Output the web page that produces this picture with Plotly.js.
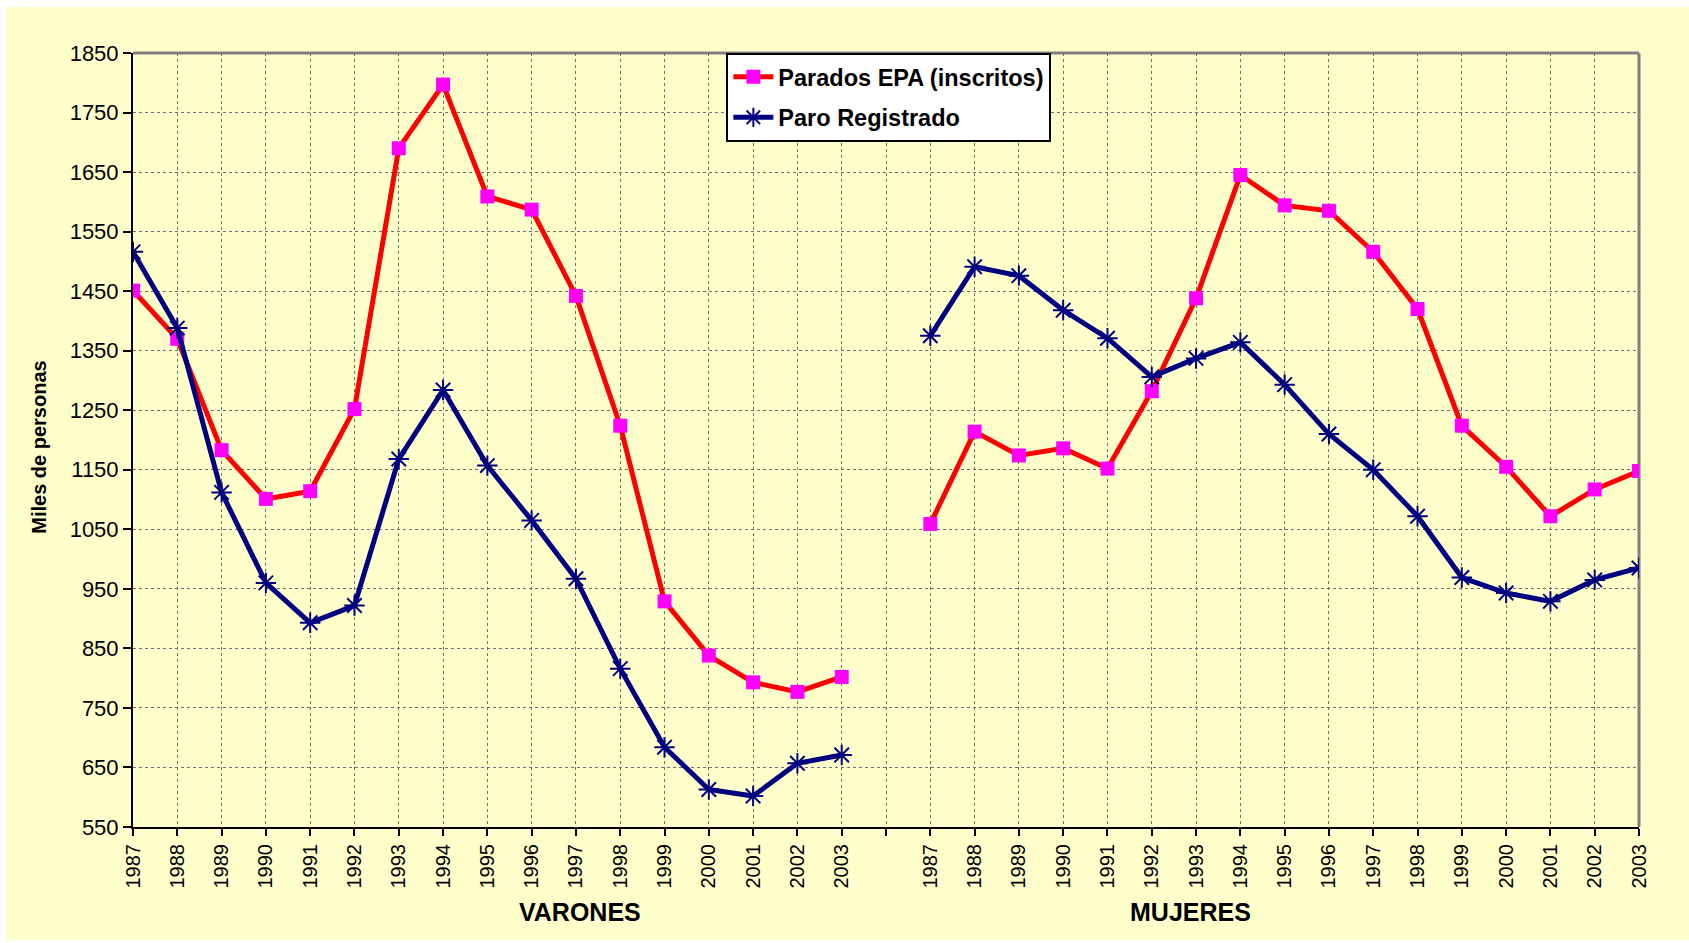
<!DOCTYPE html>
<html>
<head>
<meta charset="utf-8">
<script src="https://cdn.plot.ly/plotly-3.0.1.min.js"></script>
<style>
  html, body { margin: 0; padding: 0; background: #ffffff; width: 1689px; height: 943px; overflow: hidden; }
  #chart { position: absolute; left: 6px; top: 7px; width: 1683px; height: 933px; }
</style>
</head>
<body>
<div id="chart"></div>
<script>
// ---- data ----
const years = ["1987","1988","1989","1990","1991","1992","1993","1994","1995","1996","1997","1998","1999","2000","2001","2002","2003"];
const groups = ["VARONES", "MUJERES"];
const varonesEPA  = [1451, 1370, 1183, 1101, 1114, 1252, 1690, 1797, 1609, 1587, 1442, 1224, 929, 838, 793, 777, 802];
const varonesParo = [1516, 1388, 1112, 960, 893, 922, 1168, 1284, 1157, 1065, 967, 816, 684, 613, 602, 657, 671];
const mujeresEPA  = [1059, 1214, 1174, 1186, 1152, 1282, 1438, 1645, 1594, 1585, 1516, 1420, 1224, 1155, 1072, 1117, 1148];
const mujeresParo = [1375, 1491, 1476, 1418, 1371, 1306, 1337, 1364, 1293, 1210, 1150, 1072, 969, 943, 929, 965, 985];
const seriesNames = ["Parados EPA (inscritos)", "Paro Registrado"];

// category slots: block 1 = years, one empty slot, block 2 = years
const n = years.length;
const xA = years.map((_, i) => i);
const xB = years.map((_, i) => i + n + 1);
const tickvals = [...xA, n, ...xB];
const ticktext = [...years, "", ...years];

const FONT = 'Arial, "Liberation Sans", sans-serif';

const epaStyle = {
  mode: 'lines+markers',
  line: { color: '#FF0000', width: 5 },
  marker: { symbol: 'square', size: 14, color: '#FF00FF' }
};
const paroStyle = {
  mode: 'lines+markers',
  line: { color: '#000080', width: 5 },
  marker: { symbol: 'asterisk-open', size: 17, color: '#000080', line: { color: '#000080', width: 2 } }
};

const traces = [
  Object.assign({ x: xA, y: varonesEPA, name: seriesNames[0], legendgroup: 'epa', showlegend: true }, epaStyle),
  Object.assign({ x: xA, y: varonesParo, name: seriesNames[1], legendgroup: 'paro', showlegend: true }, paroStyle),
  Object.assign({ x: xB, y: mujeresEPA, name: seriesNames[0], legendgroup: 'epa', showlegend: false }, epaStyle),
  Object.assign({ x: xB, y: mujeresParo, name: seriesNames[1], legendgroup: 'paro', showlegend: false }, paroStyle)
];

const layout = {
  width: 1683, height: 933,
  paper_bgcolor: '#FFFFCC',
  plot_bgcolor: '#FFFFCC',
  margin: { l: 127, r: 50, t: 46, b: 113 },
  font: { family: FONT, color: '#000000' },
  showlegend: true,
  legend: {
    x: 0.394, y: 1.0, xanchor: 'left', yanchor: 'top',
    bgcolor: '#FFFFFF', bordercolor: '#000000', borderwidth: 2,
    font: { family: FONT, size: 23.5, color: '#000000', weight: 'bold' },
    tracegroupgap: 7, itemwidth: 40
  },
  xaxis: {
    range: [0, 2 * n],
    tickmode: 'array', tickvals: tickvals, ticktext: ticktext,
    tickangle: -90,
    tickfont: { family: FONT, size: 20, color: '#000000' },
    ticks: 'outside', ticklen: 7, tickwidth: 2, tickcolor: '#000000',
    showgrid: true, gridcolor: '#707070', gridwidth: 1, griddash: 'dot',
    showline: true, linecolor: '#000000', linewidth: 2,
    zeroline: false, fixedrange: true
  },
  yaxis: {
    range: [550, 1850],
    tickmode: 'linear', tick0: 550, dtick: 100,
    tickfont: { family: FONT, size: 22, color: '#000000' },
    ticks: 'outside', ticklen: 8, tickwidth: 2, tickcolor: '#000000',
    showgrid: true, gridcolor: '#707070', gridwidth: 1, griddash: 'dot',
    showline: true, linecolor: '#000000', linewidth: 2,
    zeroline: false, fixedrange: true
  },
  shapes: [
    { type: 'line', xref: 'paper', yref: 'paper', x0: 0, x1: 1, y0: 1, y1: 1, line: { color: '#808080', width: 3 }, layer: 'below' },
    { type: 'line', xref: 'paper', yref: 'paper', x0: 1, x1: 1, y0: 0, y1: 1, line: { color: '#808080', width: 3 }, layer: 'below' }
  ],
  annotations: [
    { text: '<b>Miles de personas</b>', xref: 'paper', yref: 'paper', x: 0, y: 0.49, xshift: -94,
      xanchor: 'center', yanchor: 'middle', textangle: -90, showarrow: false,
      font: { family: FONT, size: 20, color: '#000000' } },
    { text: '<b>' + groups[0] + '</b>', xref: 'paper', yref: 'paper', x: 0.297, y: 0, yshift: -85,
      xanchor: 'center', yanchor: 'middle', showarrow: false,
      font: { family: FONT, size: 25, color: '#000000' } },
    { text: '<b>' + groups[1] + '</b>', xref: 'paper', yref: 'paper', x: 0.702, y: 0, yshift: -85,
      xanchor: 'center', yanchor: 'middle', showarrow: false,
      font: { family: FONT, size: 25, color: '#000000' } }
  ]
};

Plotly.newPlot('chart', traces, layout, { displayModeBar: false, staticPlot: true });
</script>
</body>
</html>
